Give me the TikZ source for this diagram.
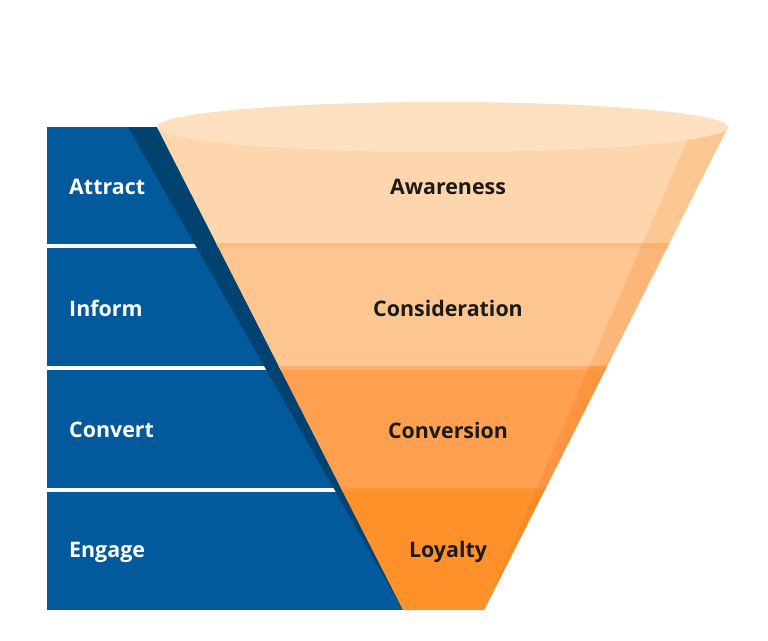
\documentclass[tikz,border=0pt]{standalone}
\usepackage{fontspec}
\setmainfont{Open Sans}
\definecolor{blueband}{HTML}{02599B}
\definecolor{blueshade}{HTML}{004371}
\definecolor{ftop}{HTML}{FDE0C0}
\definecolor{fa}{HTML}{FDD6AE}
\definecolor{fas}{HTML}{FCC793}
\definecolor{fb}{HTML}{FDC690}
\definecolor{fbs}{HTML}{FDB679}
\definecolor{fc}{HTML}{FEA050}
\definecolor{fcs}{HTML}{FE9440}
\definecolor{fd}{HTML}{FE912A}
\definecolor{fds}{HTML}{FC8A24}
\definecolor{lab}{HTML}{1A1A1A}
\tikzset{
  bandbox/.style={fill=blueband},
  leftlabel/.style={anchor=west,text=white,font=\fontsize{21.4}{25}\selectfont\bfseries,inner sep=0pt},
  funnellabel/.style={text=lab,font=\fontsize{21.4}{25}\selectfont\bfseries,inner sep=0pt},
}
\begin{document}
\begin{tikzpicture}[x=1pt,y=-1pt]
\useasboundingbox (0,0) rectangle (768,640);
% blue bands
\fill[bandbox] (47,127) rectangle (450,244);
\fill[bandbox] (47,248) rectangle (450,366);
\fill[bandbox] (47,370) rectangle (450,488);
\fill[bandbox] (47,492) rectangle (450,610);
% dark shade triangle
\fill[blueshade] (128,127) -- (157,127) -- (403,610) -- cycle;
% funnel
\begin{scope}
\clip (157,127) -- (728,127) -- (484,610) -- (403,610) -- cycle;
\fill[fa] (100,100) rectangle (768,244);
\fill[fb] (100,244) rectangle (768,366);
\fill[fc] (100,366) rectangle (768,488);
\fill[fd] (100,488) rectangle (768,620);
\fill[fb!70!fc] (100,243) rectangle (768,248);
\fill[fc!60!fb] (100,366) rectangle (768,370);
\fill[fd!70!fc] (100,488) rectangle (768,492);
\begin{scope}
\clip (693,127) -- (760,127) -- (484,610) -- cycle;
\fill[fas] (100,100) rectangle (768,243);
\fill[fbs] (100,248) rectangle (768,366);
\fill[fcs] (100,370) rectangle (768,488);
\fill[fds] (100,492) rectangle (768,620);
\fill[fbs!80!fcs] (100,243) rectangle (768,248);
\fill[fcs!85!fbs] (100,366) rectangle (768,370);
\fill[fds!80!fcs] (100,488) rectangle (768,492);
\end{scope}
\end{scope}
\fill[ftop] (442.5,127) ellipse [x radius=285.5, y radius=25];
% labels
\node[leftlabel] (attract) at (69,187) {Attract};
\node[leftlabel] (inform) at (69,308) {Inform};
\node[leftlabel] (convert) at (69,430) {Convert};
\node[leftlabel] (engage) at (69,552) {Engage};
\node[funnellabel] (awareness) at (448,187) {Awareness};
\node[funnellabel] (consideration) at (448,308) {Consideration};
\node[funnellabel] (conversion) at (448,430) {Conversion};
\node[funnellabel] (loyalty) at (448,552) {Loyalty};
\end{tikzpicture}
\end{document}
